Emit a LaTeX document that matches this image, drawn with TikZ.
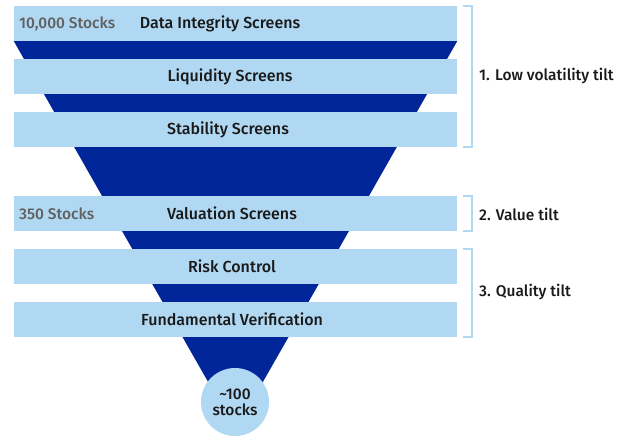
\documentclass[tikz,border=0pt]{standalone}
\usepackage{fontspec}
\setmainfont{Fira Sans}[BoldFont={Fira Sans Medium}]
\usepackage{tikz}
\usetikzlibrary{positioning}

\definecolor{screenblue}{RGB}{176,216,242}
\definecolor{funnelblue}{RGB}{0,38,153}
\definecolor{stockgray}{RGB}{96,96,96}
\definecolor{textdark}{RGB}{25,25,25}

\tikzset{
    screen/.style={fill=screenblue, minimum width=443pt, minimum height=35pt, inner sep=0pt},
    screentext/.style={text=textdark, font=\fontsize{16}{17}\selectfont\bfseries},
    stocks/.style={text=stockgray, font=\fontsize{15.5}{17}\selectfont\bfseries, anchor=west, inner sep=0pt},
    bracket/.style={draw=screenblue, line width=2pt},
    tilt/.style={text=textdark, font=\fontsize{15.5}{17}\selectfont\bfseries, anchor=west, inner sep=0pt}
}

\begin{document}
\begin{tikzpicture}[x=1pt, y=-1pt]
    \useasboundingbox (0,0) rectangle (628,436);
    % screening bars
    \node[screen] (s1) at (235.5, 23.5) {};
    \node[screen] (s2) at (235.5, 76.5) {};
    \node[screen] (s3) at (235.5, 129.5) {};
    \node[screen] (s4) at (235.5, 213.5) {};
    \node[screen] (s5) at (235.5, 266.5) {};
    \node[screen] (s6) at (235.5, 319.5) {};
    % funnel behind the bars
    \coordinate (tip) at (235.5, 430);
    \fill[funnelblue] (s1.south west) -- (s1.south east) -- (tip) -- cycle;
    % bars again on top of the funnel
    \foreach \b in {s1,s2,s3,s4,s5,s6}
        \fill[screenblue] (\b.north west) rectangle (\b.south east);
    \node[screentext] (t1) at (220, 23.5) {Data Integrity Screens};
    \node[screentext] (t2) at (230, 76.5) {Liquidity Screens};
    \node[screentext] (t3) at (228, 129.5) {Stability Screens};
    \node[screentext] (t4) at (232, 213.5) {Valuation Screens};
    \node[screentext] (t5) at (232, 266.5) {Risk Control};
    \node[screentext] (t6) at (232, 319.5) {Fundamental Verification};
    % stock counts
    \node[stocks] (n1) at (19, 23.5) {10,000 Stocks};
    \node[stocks] (n2) at (19, 213.5) {350 Stocks};
    % final portfolio
    \node[circle, fill=screenblue, minimum size=68pt, inner sep=0pt, align=center,
          screentext, font=\fontsize{15.5}{16}\selectfont\bfseries] (final) at (235, 402) {\textasciitilde100\\stocks};
    % tilt brackets
    \draw[bracket] ([xshift=6pt]s1.north east) -- ++(9,0) |- ([xshift=6pt]s3.south east);
    \draw[bracket] ([xshift=6pt]s4.north east) -- ++(9,0) |- ([xshift=6pt]s4.south east);
    \draw[bracket] ([xshift=6pt]s5.north east) -- ++(9,0) |- ([xshift=6pt]s6.south east);
    \node[tilt] (l1) at (479, 76) {1. Low volatility tilt};
    \node[tilt] (l2) at (479, 214) {2. Value tilt};
    \node[tilt] (l3) at (479, 292) {3. Quality tilt};
\end{tikzpicture}
\end{document}
